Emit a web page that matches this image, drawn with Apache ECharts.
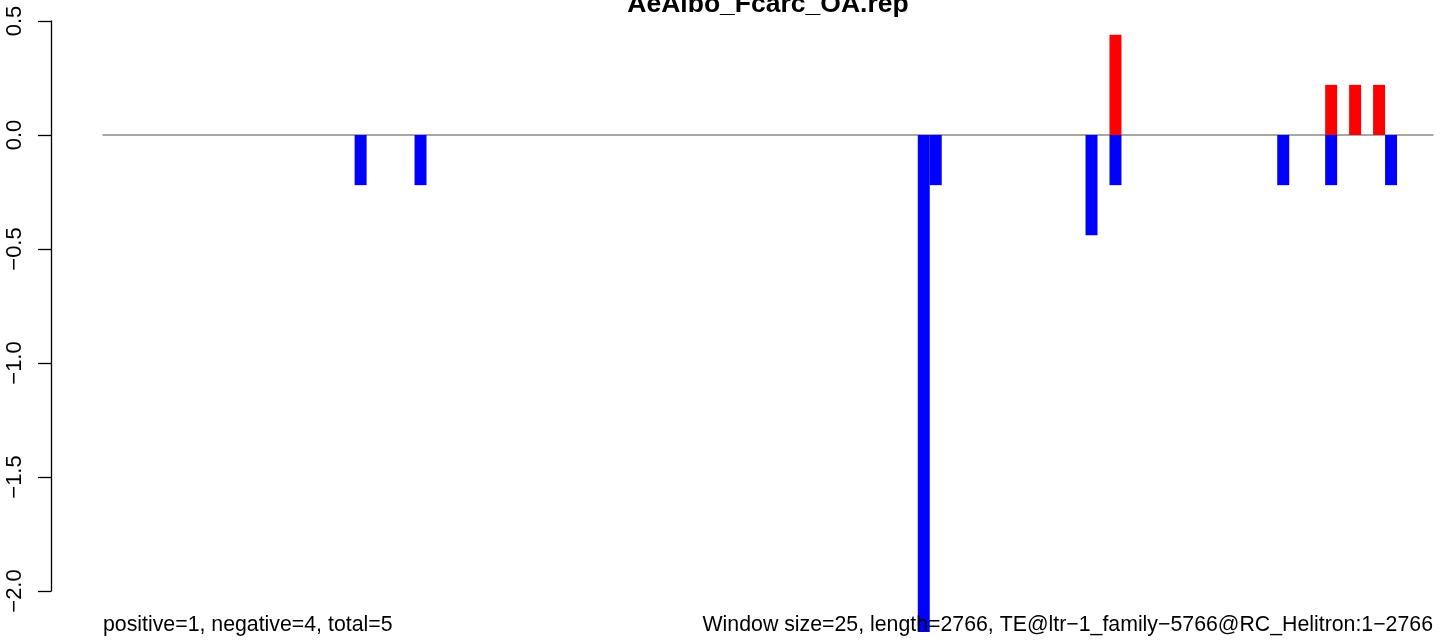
<!DOCTYPE html>
<html>
<head>
<meta charset="utf-8">
<script src="https://cdn.jsdelivr.net/npm/echarts@6/dist/echarts.min.js"></script>
<style>
html,body{margin:0;padding:0;background:#fff;}
#chart{width:1444px;height:644px;}
</style>
</head>
<body>
<div id="chart"></div>
<script>
const chartTitle = 'AeAlbo_Fcarc_OA.rep';
const leftNote = 'positive=1, negative=4, total=5';
const rightNote = 'Window size=25, length=2766, TE@ltr\u22121_family\u22125766@RC_Helitron:1\u22122766';
const windowSize = 25;
const windowCount = 111;
const positiveWindows = [84, 102, 104, 106];
const positiveValues = [0.44, 0.22, 0.22, 0.22];
const negativeWindows = [21, 26, 68, 69, 82, 84, 98, 102, 107];
const negativeValues = [-0.22, -0.22, -2.18, -0.22, -0.44, -0.22, -0.22, -0.22, -0.22];
const yTicks = [-2.0, -1.5, -1.0, -0.5, 0.0, 0.5];

const categories = [];
const posData = [];
const negData = [];
for (let i = 0; i < windowCount; i++) {
  categories.push(String(i * windowSize + 1));
  posData.push(null);
  negData.push(null);
}
positiveWindows.forEach((w, k) => { posData[w] = positiveValues[k]; });
negativeWindows.forEach((w, k) => { negData[w] = negativeValues[k]; });

const FONT = '"Liberation Sans", Arial, Helvetica, sans-serif';
const chart = echarts.init(document.getElementById('chart'));
chart.setOption({
  animation: false,
  backgroundColor: '#ffffff',
  title: [
    { text: chartTitle, left: 768, top: -9, textAlign: 'center', padding: 0,
      textStyle: { fontFamily: FONT, fontSize: 26.5, fontWeight: 'bold', color: '#000' } },
    { text: leftNote, left: 103, top: 615, padding: 0,
      textStyle: { fontFamily: FONT, fontSize: 21.3, fontWeight: 'normal', color: '#000' } },
    { text: rightNote, right: 11, top: 615, padding: 0,
      textStyle: { fontFamily: FONT, fontSize: 21.3, fontWeight: 'normal', color: '#000' } }
  ],
  grid: { left: 103, right: 11, top: 21, bottom: 53, containLabel: false },
  xAxis: {
    type: 'category',
    data: categories,
    boundaryGap: true,
    axisLine: { show: true, onZero: true, lineStyle: { color: '#8a8a8a', width: 1.5 } },
    axisTick: { show: false },
    axisLabel: { show: false },
    splitLine: { show: false }
  },
  yAxis: {
    type: 'value',
    min: -2.0,
    max: 0.5,
    interval: 0.5,
    offset: 52,
    axisLine: { show: true, lineStyle: { color: '#000', width: 1.3 } },
    axisTick: { show: true, length: 13, lineStyle: { color: '#000', width: 1.3 } },
    splitLine: { show: false },
    axisLabel: {
      rotate: 90,
      margin: 25,
      fontFamily: FONT,
      fontSize: 22,
      color: '#000',
      formatter: v => (v < 0 ? '\u2212' : '') + Math.abs(v).toFixed(1)
    }
  },
  series: [
    { name: 'positive', type: 'bar', stack: 'w', data: posData, barWidth: '100%',
      clip: false, itemStyle: { color: '#ff0000' } },
    { name: 'negative', type: 'bar', stack: 'w', data: negData, barWidth: '100%',
      clip: false, itemStyle: { color: '#0000ff' } }
  ]
});
</script>
</body>
</html>
